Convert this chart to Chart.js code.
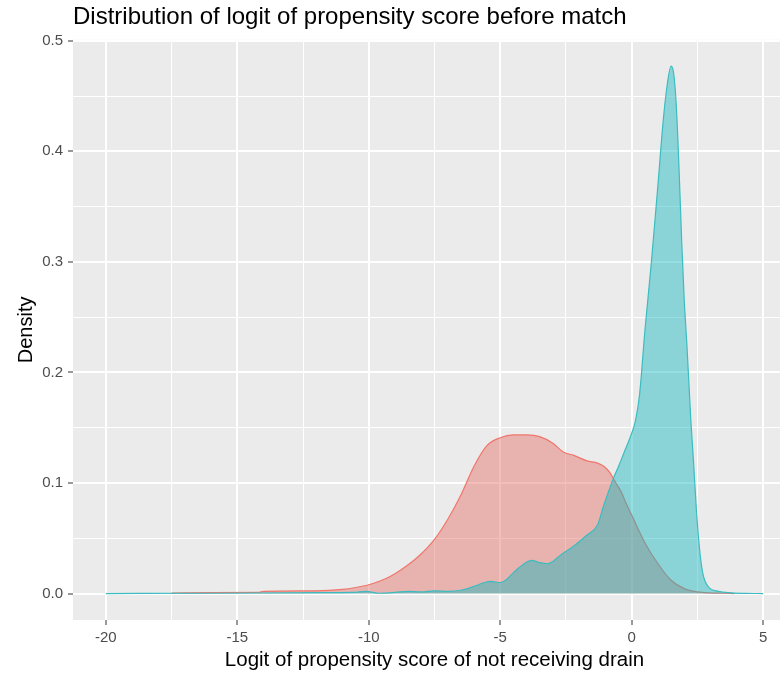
<!DOCTYPE html>
<html>
<head>
<meta charset="utf-8">
<script src="https://cdn.jsdelivr.net/npm/chart.js@4.4.0/dist/chart.umd.min.js"></script>
<style>
  html, body { margin: 0; padding: 0; background: #FFFFFF; overflow: hidden; }
  #wrap { width: 796px; height: 673px; }
</style>
</head>
<body>
<div id="wrap"><canvas id="c" width="796" height="673"></canvas></div>
<script>
// ---- data ----
const chartTitle = 'Distribution of logit of propensity score before match';
const xTitle = 'Logit of propensity score of not receiving drain';
const yTitle = 'Density';

const xMajorTicks = [-20, -15, -10, -5, 0, 5];
const xMinorTicks = [-17.5, -12.5, -7.5, -2.5, 2.5];
const yMajorTicks = [0, 0.1, 0.2, 0.3, 0.4, 0.5];
const yMinorTicks = [0.05, 0.15, 0.25, 0.35, 0.45];

// group 1 (red)
const redX = [-17.5, -16, -14.2, -14, -12, -11, -10.5, -10, -9.5, -9, -8.5, -8, -7.5, -7, -6.5, -6, -5.5, -5, -4.5, -4, -3.5, -3, -2.6, -2.2, -1.7, -1.3, -1.05, -0.85, -0.6, -0.4, -0.2, 0, 0.5, 1, 1.5, 2, 2.5, 3, 3.5, 3.9];
const redY = [0.0005, 0.0008, 0.001, 0.002, 0.0025, 0.0038, 0.0055, 0.008, 0.012, 0.018, 0.026, 0.036, 0.049, 0.067, 0.089, 0.115, 0.134, 0.141, 0.1435, 0.1435, 0.142, 0.136, 0.128, 0.125, 0.120, 0.118, 0.115, 0.110, 0.100, 0.092, 0.081, 0.071, 0.046, 0.027, 0.012, 0.0045, 0.0015, 0.0006, 0.0003, 0];

// group 2 (teal)
const tealX = [-20, -16, -12, -10.6, -10.1, -9.6, -9, -8.5, -8, -7.5, -7, -6.5, -6, -5.6, -5.35, -5.0, -4.75, -4.5, -4.2, -3.8, -3.5, -3.2, -3.0, -2.7, -2.2, -1.7, -1.3, -1.1, -0.9, -0.7, -0.5, -0.3, 0, 0.15, 0.3, 0.5, 0.75, 1.0, 1.2, 1.35, 1.5, 1.6, 1.7, 1.8, 1.9, 2.0, 2.1, 2.25, 2.35, 2.45, 2.57, 2.7, 2.9, 3.3, 3.8, 4.3, 5.0];
const tealY = [0, 0.0003, 0.0008, 0.001, 0.002, 0.0003, 0.001, 0.002, 0.0015, 0.0025, 0.002, 0.003, 0.0065, 0.010, 0.011, 0.010, 0.013, 0.019, 0.025, 0.030, 0.028, 0.027, 0.029, 0.035, 0.043, 0.053, 0.062, 0.077, 0.091, 0.104, 0.115, 0.127, 0.145, 0.157, 0.18, 0.237, 0.30, 0.37, 0.428, 0.46, 0.477, 0.47, 0.44, 0.385, 0.32, 0.265, 0.225, 0.157, 0.12, 0.08, 0.043, 0.019, 0.0066, 0.002, 0.0007, 0.0002, 0];

const toPts = (xs, ys) => xs.map((x, i) => ({ x: x, y: ys[i] }));

const panelBg = {
  id: 'panelBg',
  beforeDraw(chart) {
    const { ctx, chartArea: a } = chart;
    ctx.save();
    ctx.fillStyle = '#FFFFFF';
    ctx.fillRect(0, 0, chart.width, chart.height);
    ctx.fillStyle = '#EBEBEB';
    ctx.fillRect(a.left, a.top, a.right - a.left, a.bottom - a.top);
    ctx.restore();
  }
};

const isMajor = (list, v) => list.some(t => Math.abs(t - v) < 1e-9);
const FONT = "'Liberation Sans', Arial, sans-serif";

new Chart(document.getElementById('c'), {
  type: 'line',
  data: {
    datasets: [
      {
        label: 'group 0',
        data: toPts(redX, redY),
        borderColor: '#F0756B',
        backgroundColor: 'rgba(228,111,102,0.45)',
        borderWidth: 1.2,
        fill: 'origin',
        pointRadius: 0,
        cubicInterpolationMode: 'monotone',
        order: 1
      },
      {
        label: 'group 1',
        data: toPts(tealX, tealY),
        borderColor: '#3CBCC0',
        backgroundColor: 'rgba(19,182,188,0.45)',
        borderWidth: 1.2,
        fill: 'origin',
        pointRadius: 0,
        cubicInterpolationMode: 'monotone',
        order: 0
      }
    ]
  },
  options: {
    responsive: false,
    animation: false,
    events: [],
    layout: { padding: 0 },
    plugins: {
      legend: { display: false },
      tooltip: { enabled: false },
      title: {
        display: true,
        text: chartTitle,
        align: 'start',
        fullSize: false,
        color: '#000000',
        font: { family: FONT, size: 24, weight: 'normal', lineHeight: 1.2 },
        padding: { top: 2.5, bottom: 8.5 }
      }
    },
    scales: {
      x: {
        type: 'linear',
        min: -21.25,
        max: 6.25,
        afterBuildTicks: (s) => {
          s.ticks = xMajorTicks.concat(xMinorTicks).sort((a, b) => a - b).map(v => ({ value: v }));
        },
        afterFit: (s) => { s.height = 53; },
        border: { display: false },
        grid: {
          color: '#FFFFFF',
          lineWidth: (c) => (c.tick && isMajor(xMajorTicks, c.tick.value) ? 2 : 1),
          tickColor: (c) => (c.tick && isMajor(xMajorTicks, c.tick.value) ? '#333333' : 'rgba(0,0,0,0)'),
          tickWidth: 1,
          tickLength: 5,
          drawTicks: true
        },
        ticks: {
          autoSkip: false,
          maxRotation: 0,
          padding: 4,
          color: '#4D4D4D',
          font: { family: FONT, size: 15 },
          callback: (v) => (isMajor(xMajorTicks, v) ? String(v) : '')
        },
        title: {
          display: true,
          text: xTitle,
          color: '#000000',
          font: { family: FONT, size: 20.5 },
          padding: { top: 0, bottom: 0 }
        }
      },
      y: {
        type: 'linear',
        min: -0.0239,
        max: 0.5009,
        afterBuildTicks: (s) => {
          s.ticks = yMajorTicks.concat(yMinorTicks).sort((a, b) => a - b).map(v => ({ value: v }));
        },
        afterFit: (s) => { s.width = 73; },
        border: { display: false },
        grid: {
          color: '#FFFFFF',
          lineWidth: (c) => (c.tick && isMajor(yMajorTicks, c.tick.value) ? 2 : 1),
          tickColor: (c) => (c.tick && isMajor(yMajorTicks, c.tick.value) ? '#333333' : 'rgba(0,0,0,0)'),
          tickWidth: 1,
          tickLength: 5,
          drawTicks: true
        },
        ticks: {
          autoSkip: false,
          padding: 5,
          color: '#4D4D4D',
          font: { family: FONT, size: 15 },
          callback: (v) => (isMajor(yMajorTicks, v) ? Number(v).toFixed(1) : '')
        },
        title: {
          display: true,
          text: yTitle,
          color: '#000000',
          font: { family: FONT, size: 20 },
          padding: { top: 14, bottom: 0 }
        }
      }
    }
  },
  plugins: [panelBg]
});
</script>
</body>
</html>
